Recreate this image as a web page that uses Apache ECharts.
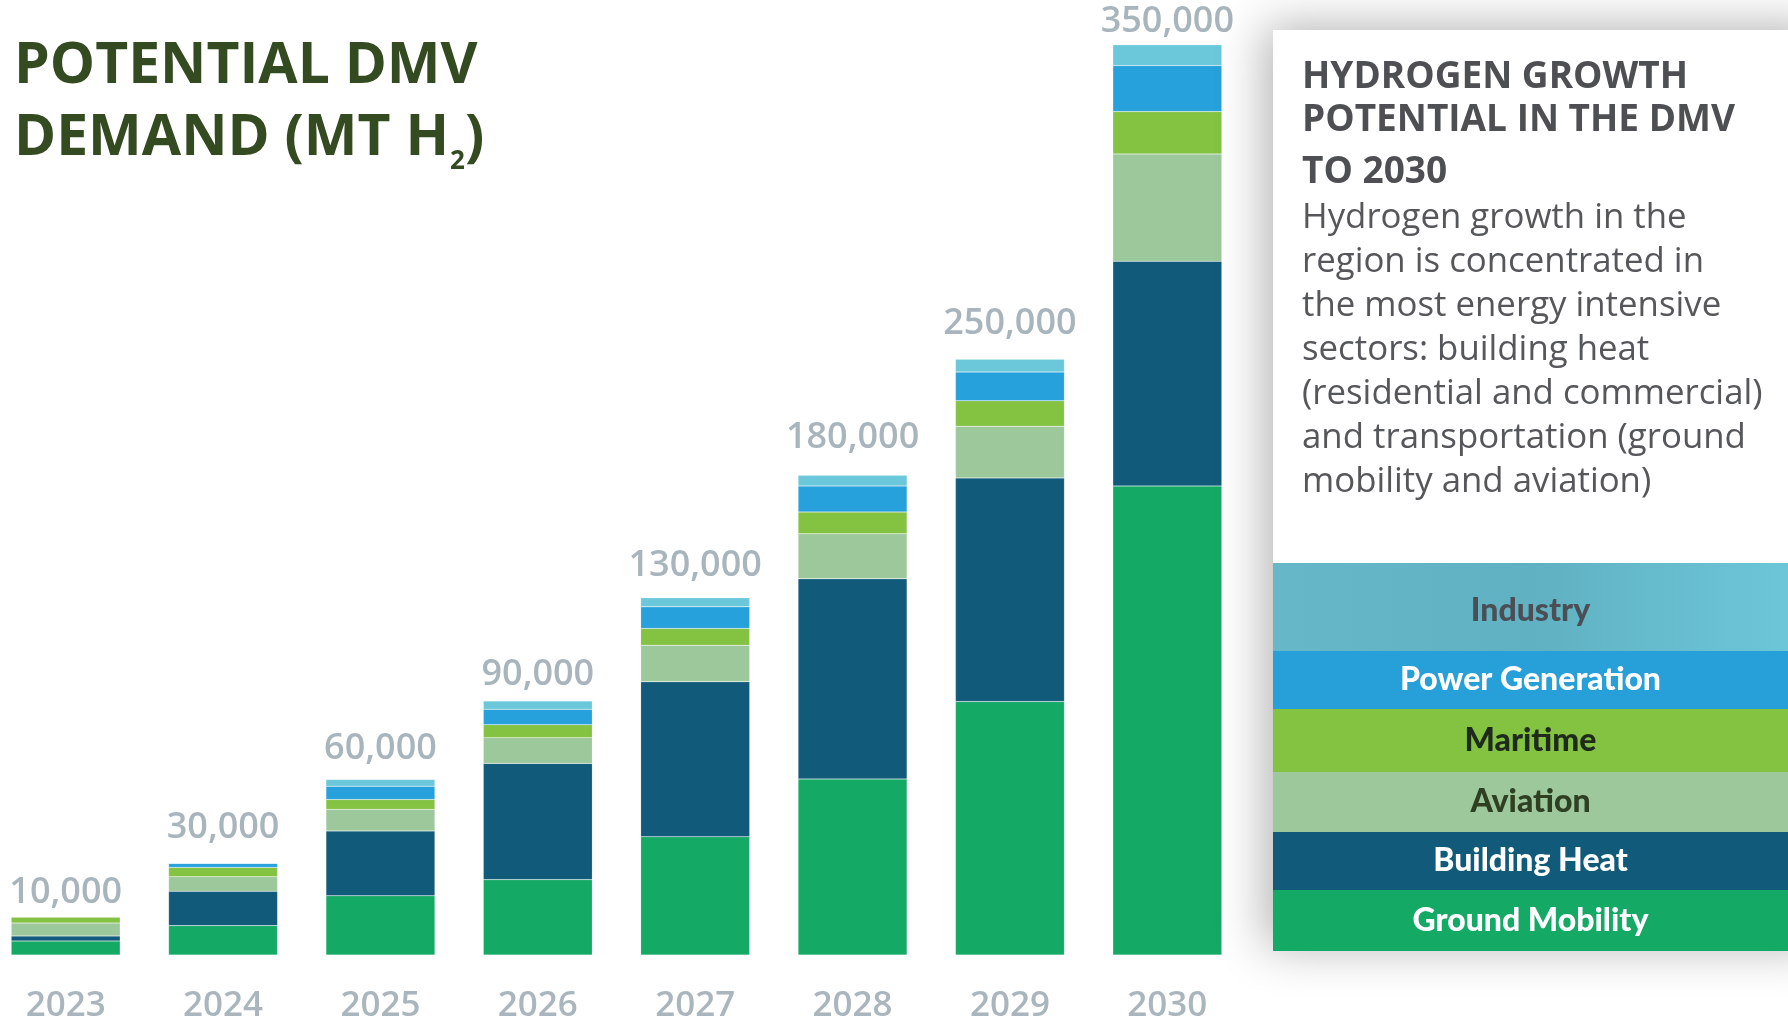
<!DOCTYPE html>
<html>
<head>
<meta charset="utf-8">
<script src="https://cdn.jsdelivr.net/npm/echarts@6/dist/echarts.min.js"></script>
<style>
html,body{margin:0;padding:0;background:#ffffff;}
#chart{width:1788px;height:1020px;}
</style>
</head>
<body>
<div id="chart"></div>
<script>
// ---- data ----
const years = ['2023','2024','2025','2026','2027','2028','2029','2030'];
const totalLabels = [10000, 30000, 60000, 90000, 130000, 180000, 250000, 350000];
// segment values (MT H2)
const groundMobility  = [5400, 11300, 22800, 29000, 45500, 67700, 97500, 180400];
const buildingHeat    = [1900, 13200, 24900, 44700, 59600, 77000, 86000, 86400];
const aviation        = [5000,  5600,  8300,  9900, 14000, 17300, 19900, 41300];
const maritime        = [2300,  3600,  3800,  5000,  6500,  8400,  9800, 16300];
const powerGeneration = [   0,  1500,  5100,  5900,  8300, 10000, 11000, 17700];
const industry        = [   0,     0,  2600,  3200,  3500,  4100,  4900,  8000];

const sectorNames = ['Ground Mobility','Building Heat','Aviation','Maritime','Power Generation','Industry'];
const sectorValues = [groundMobility, buildingHeat, aviation, maritime, powerGeneration, industry];

// ---- styles / layout ----
const sectorColors = ['#15a966','#115a79','#9cc89c','#84c242','#27a1db','#6bc8da'];
const legendTextColors = ['#ffffff','#ffffff','#2f3f22','#1e2b1c','#ffffff','#4b4f55'];
const totalLabelGaps = [6, 18, 13, 8, 14, 20, 18, 5];

const cardHeading = 'HYDROGEN GROWTH\nPOTENTIAL IN THE DMV';
const cardHeading2 = 'TO 2030';
const cardBody = 'Hydrogen growth in the\nregion is concentrated in\nthe most energy intensive\nsectors: building heat\n(residential and commercial)\nand transportation (ground\nmobility and aviation)';

// ---- chart ----
const chart = echarts.init(document.getElementById('chart'), null, {renderer:'canvas'});

const series = sectorNames.map((name, i) => ({
  name: name,
  type: 'bar',
  stack: 'all',
  barWidth: 109,
  clip: false,
  data: sectorValues[i],
  itemStyle: {color: sectorColors[i], borderColor: 'rgba(255,255,255,0.35)', borderWidth: 0.5},
  emphasis: {disabled: true},
  z: 2
}));
series.push({
  name: 'Total',
  type: 'bar',
  stack: 'all',
  barWidth: 109,
  clip: false,
  data: years.map((y, i) => ({value: 0, label: {distance: totalLabelGaps[i]}})),
  itemStyle: {color: 'rgba(0,0,0,0)'},
  label: {
    show: true,
    position: 'top',
    formatter: p => totalLabels[p.dataIndex].toLocaleString('en-US'),
    fontFamily: 'Open Sans',
    fontWeight: 600,
    fontSize: 36,
    color: '#a8b5bc'
  },
  z: 3
});

// legend bands (top -> bottom)
const bandTops = [563, 651, 709, 772, 832, 890];
const bandBottom = 951;
const cardX = 1273, cardW = 1788 - 1273;
const graphics = [];
graphics.push({
  type: 'rect', z: 10,
  shape: {x: cardX, y: 30, width: cardW + 40, height: bandBottom - 30},
  style: {fill: '#ffffff', shadowBlur: 45, shadowColor: 'rgba(0,0,0,0.30)', shadowOffsetX: -8, shadowOffsetY: -4}
});
const legendOrder = [5,4,3,2,1,0];
legendOrder.forEach((si, k) => {
  const top = bandTops[k];
  const bottom = k < bandTops.length - 1 ? bandTops[k+1] : bandBottom;
  let fill = sectorColors[si];
  if (si === 5) {
    fill = new echarts.graphic.LinearGradient(0, 0, 1, 0, [
      {offset: 0, color: '#66b8c9'}, {offset: 0.5, color: '#60b1c1'}, {offset: 1, color: '#6cc6d8'}
    ]);
  }
  if (si === 4) fill = '#279fd8';
  graphics.push({
    type: 'rect', z: 11,
    shape: {x: cardX, y: top, width: cardW, height: bottom - top},
    style: {fill: fill}
  });
  graphics.push({
    type: 'text', z: 12,
    style: {
      x: cardX + cardW/2, y: (top + bottom)/2 + (k === 0 ? 4 : 0),
      text: sectorNames[si],
      textAlign: 'center', textVerticalAlign: 'middle',
      fontFamily: 'Lato', fontWeight: 900, fontSize: 32,
      fill: legendTextColors[si]
    }
  });
});
// card text
graphics.push({
  type: 'text', z: 12,
  style: {x: 1302, y: 56, text: cardHeading, fontFamily: 'Open Sans', fontWeight: 'bold', fontSize: 37,
          lineHeight: 43, fill: '#4d4f53', textVerticalAlign: 'top'}
});
graphics.push({
  type: 'text', z: 12,
  style: {x: 1302, y: 151, text: cardHeading2, fontFamily: 'Open Sans', fontWeight: 'bold', fontSize: 37,
          lineHeight: 43, fill: '#4d4f53', textVerticalAlign: 'top'}
});
graphics.push({
  type: 'text', z: 12,
  style: {x: 1302, y: 196, text: cardBody, fontFamily: 'Open Sans', fontWeight: 'normal', fontSize: 34.8,
          lineHeight: 44, fill: '#55575b', textVerticalAlign: 'top'}
});
// main title
graphics.push({
  type: 'text', z: 12,
  style: {
    x: 14, y: 31,
    text: '{a|POTENTIAL DMV}\n{a|DEMAND (MT H}{s|2}{a|)}',
    textVerticalAlign: 'top',
    rich: {
      a: {fontFamily: 'Open Sans', fontWeight: 'bold', fontSize: 57, lineHeight: 72, fill: '#344a20', color: '#344a20'},
      s: {fontFamily: 'Open Sans', fontWeight: 'bold', fontSize: 26, lineHeight: 72, fill: '#344a20', color: '#344a20',
          verticalAlign: 'bottom', padding: [0, 0, 0, 1]}
    }
  }
});

chart.setOption({
  backgroundColor: '#ffffff',
  animation: false,
  grid: {left: -13, width: 1259, top: 45, bottom: 65, containLabel: false, outerBoundsMode: 'none'},
  xAxis: {
    type: 'category',
    data: years,
    axisLine: {show: false},
    axisTick: {show: false},
    axisLabel: {
      margin: 31,
      fontFamily: 'Open Sans', fontWeight: 600, fontSize: 35, lineHeight: 40,
      color: '#aab6bd', verticalAlign: 'top'
    }
  },
  yAxis: {
    type: 'value', min: 0, max: 350000, show: false,
    splitLine: {show: false}
  },
  series: series,
  graphic: graphics
});
</script>
</body>
</html>
